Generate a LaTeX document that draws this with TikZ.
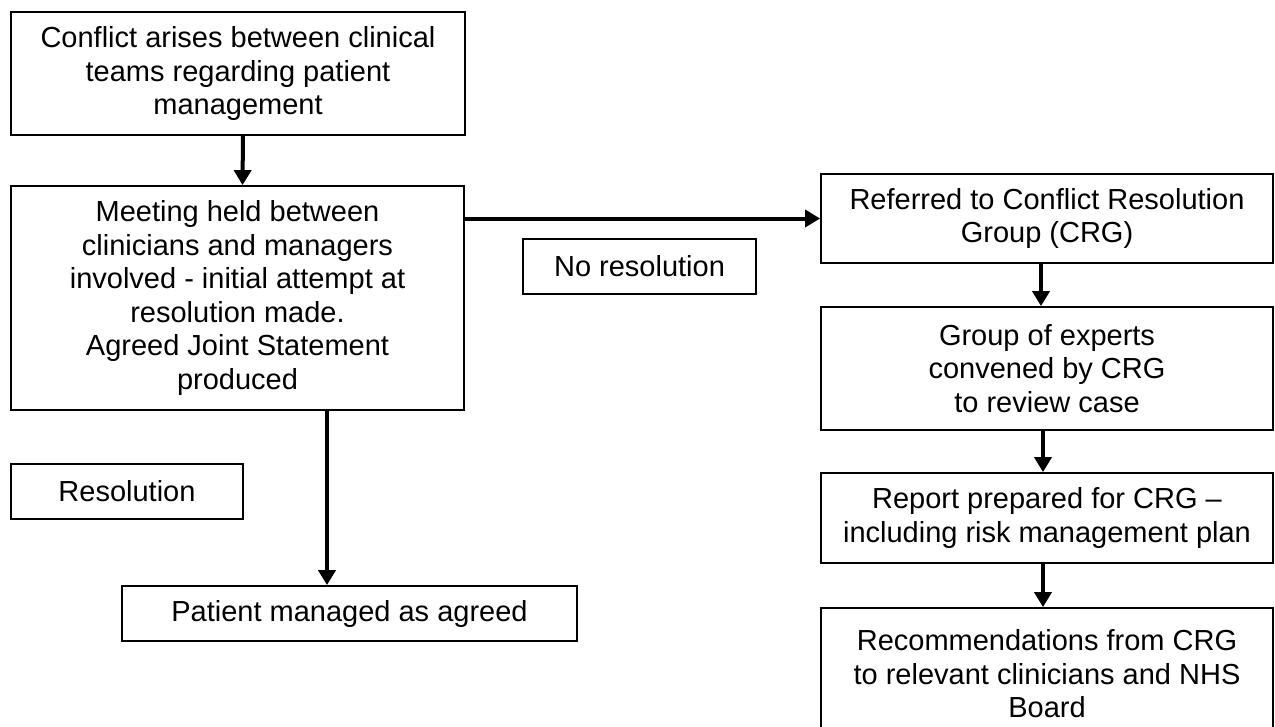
\documentclass[tikz,border=0pt]{standalone}
\usepackage{fontspec}
\setmainfont{Liberation Sans}
\usetikzlibrary{arrows.meta}
\begin{document}
\begin{tikzpicture}[x=1pt,y=-1pt,
  box/.style={draw=black,line width=1.8pt,rectangle,inner sep=0pt,align=center,
    font=\fontsize{29}{33.5}\selectfont},
  arr/.style={line width=4pt,-{Triangle[length=15pt,width=17pt]}}]
\useasboundingbox (0,0) rectangle (1275,726);
\clip (0,0) rectangle (1275,726);
\node[box,minimum width=454pt,minimum height=123pt] (b1) at (238,73.5)
  {Conflict arises between clinical\\teams regarding patient\\management};
\node[box,minimum width=453pt,minimum height=224pt] (b2) at (237.5,298)
  {Meeting held between\\clinicians and managers\\involved - initial attempt at\\resolution made.\\Agreed Joint Statement\\produced};
\node[box,minimum width=233pt,minimum height=55pt] (nores) at (639.5,266.5) {No resolution};
\node[box,minimum width=452pt,minimum height=89pt] (b3) at (1047,218.5)
  {Referred to Conflict Resolution\\Group (CRG)};
\node[box,minimum width=452pt,minimum height=123pt] (b4) at (1047,368.5)
  {Group of experts\\convened by CRG\\to review case};
\node[box,minimum width=452pt,minimum height=90pt] (b5) at (1047,518)
  {Report prepared for CRG –\\including risk management plan};
\node[box,minimum width=452pt,minimum height=132pt] (b6) at (1047,674)
  {Recommendations from CRG\\to relevant clinicians and NHS\\Board};
\node[box,minimum width=232pt,minimum height=55pt] (res) at (127,491.5) {Resolution};
\node[box,minimum width=455pt,minimum height=55pt] (pat) at (349.5,613.5) {Patient managed as agreed};
\coordinate (px) at (327,0);
\draw[arr] ([xshift=5pt]b1.south) -- ([xshift=5pt]b2.north);
\draw[arr] (b2.east |- b3.west) -- (b3.west);
\draw[arr] (b2.south -| px) -- (pat.north -| px);
\draw[arr] ([xshift=-6pt]b3.south) -- ([xshift=-6pt]b4.north);
\draw[arr] ([xshift=-4pt]b4.south) -- ([xshift=-4pt]b5.north);
\draw[arr] ([xshift=-4pt]b5.south) -- ([xshift=-4pt]b6.north);
\end{tikzpicture}
\end{document}
